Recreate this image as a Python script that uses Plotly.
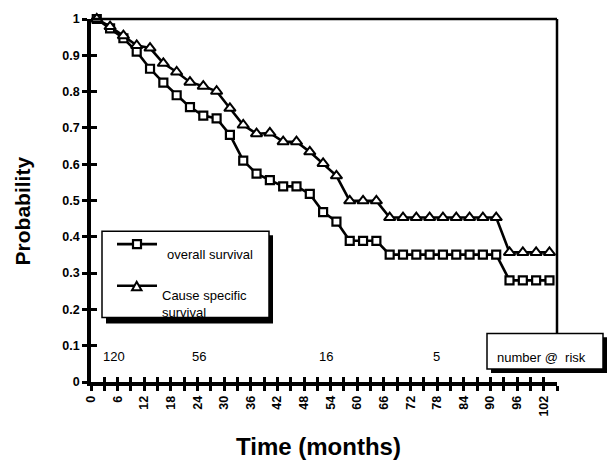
import plotly.graph_objects as go

# ---- data ----
times = [1.3, 4.3, 7.3, 10.3, 13.3, 16.3, 19.3, 22.3, 25.3, 28.3, 31.3, 34.3,
         37.3, 40.3, 43.3, 46.3, 49.3, 52.3, 55.3, 58.3, 61.3, 64.3, 67.3, 70.3,
         73.3, 76.3, 79.3, 82.3, 85.3, 88.3, 91.3, 94.3, 97.3, 100.3, 103.3]
overall_survival = [1.0, 0.974, 0.947, 0.910, 0.863, 0.825, 0.790, 0.757, 0.734,
                    0.726, 0.681, 0.610, 0.574, 0.556, 0.539, 0.539, 0.518, 0.468,
                    0.442, 0.389, 0.389, 0.389, 0.351, 0.351, 0.351, 0.351, 0.351,
                    0.351, 0.351, 0.351, 0.351, 0.280, 0.280, 0.280, 0.280]
cause_specific = [1.0, 0.979, 0.954, 0.927, 0.920, 0.878, 0.854, 0.826, 0.815,
                  0.801, 0.754, 0.708, 0.684, 0.686, 0.662, 0.662, 0.634, 0.602,
                  0.568, 0.499, 0.499, 0.499, 0.453, 0.453, 0.453, 0.453, 0.453,
                  0.453, 0.453, 0.453, 0.453, 0.357, 0.357, 0.357, 0.357]

x_tick_vals = [0, 3, 6, 9, 12, 15, 18, 21, 24, 27, 30, 33, 36, 39, 42, 45, 48, 51,
               54, 57, 60, 63, 66, 69, 72, 75, 78, 81, 84, 87, 90, 93, 96, 99, 102, 105]
x_tick_text = ["0", "", "6", "", "12", "", "18", "", "24", "", "30", "", "36", "",
               "42", "", "48", "", "54", "", "60", "", "66", "", "72", "", "78", "",
               "84", "", "90", "", "96", "", "102", ""]
y_tick_vals = [0, 0.1, 0.2, 0.3, 0.4, 0.5, 0.6, 0.7, 0.8, 0.9, 1.0]
y_tick_text = ["0", "0.1", "0.2", "0.3", "0.4", "0.5", "0.6", "0.7", "0.8", "0.9", "1"]

risk_counts = ["120", "56", "16", "5"]
risk_times = [5.1, 24.4, 53.0, 77.8]
risk_level = 0.069

series_names = ["overall survival", "Cause specific<br>survival"]

# ---- layout geometry (pixels) ----
W, H = 609, 464
L, R, T, B = 91, 52, 16, 82
PW, PH = W - L - R, H - T - B


def px(x):
    return (x - L) / PW


def py(y):
    return (H - B - y) / PH


FONT = "Arial, Liberation Sans, Helvetica, sans-serif"

fig = go.Figure()
fig.add_trace(go.Scatter(
    x=times, y=overall_survival, mode="lines+markers", name=series_names[0],
    line=dict(color="black", width=2.6),
    marker=dict(symbol="square", size=8, color="white",
                line=dict(color="black", width=2.2)),
    cliponaxis=False, showlegend=False))
fig.add_trace(go.Scatter(
    x=times, y=cause_specific, mode="lines+markers", name=series_names[1],
    line=dict(color="black", width=2.6),
    marker=dict(symbol="triangle-up", size=10, color="white",
                line=dict(color="black", width=2.0)),
    cliponaxis=False, showlegend=False))
# invisible trace to carry the overlay axes (inner half of crossing ticks)
fig.add_trace(go.Scatter(x=[0], y=[0], xaxis="x2", yaxis="y2", mode="markers",
                         marker=dict(opacity=0), showlegend=False, hoverinfo="skip"))

axis_common = dict(showgrid=False, zeroline=False, linecolor="black",
                   tickcolor="black", fixedrange=True)
fig.update_layout(
    width=W, height=H,
    margin=dict(l=L, r=R, t=T, b=B, pad=0),
    paper_bgcolor="white", plot_bgcolor="white",
    showlegend=False,
    xaxis=dict(range=[0, 105], tickmode="array", tickvals=x_tick_vals,
               ticktext=x_tick_text, ticks="outside", ticklen=5, tickwidth=2.5,
               showline=True, linewidth=3.5, tickangle=-90,
               tickfont=dict(family=FONT, size=12.5, color="black", weight="bold"),
               **axis_common),
    yaxis=dict(range=[0, 1], tickmode="array", tickvals=y_tick_vals,
               ticktext=y_tick_text, ticks="outside", ticklen=5, tickwidth=2.5,
               showline=True, linewidth=3.5,
               tickfont=dict(family=FONT, size=12.5, color="black", weight="bold"),
               **axis_common),
    xaxis2=dict(range=[0, 105], overlaying="x", anchor="y", tickmode="array",
                tickvals=x_tick_vals, ticks="inside", ticklen=5, tickwidth=2.5,
                showticklabels=False, showline=False, **axis_common),
    yaxis2=dict(range=[0, 1], overlaying="y", anchor="x", tickmode="array",
                tickvals=y_tick_vals, ticks="inside", ticklen=6, tickwidth=2.5,
                showticklabels=False, showline=False, **axis_common),
)

shapes = []
# frame: top and right lines
shapes.append(dict(type="line", xref="paper", yref="paper", x0=0, x1=1, y0=1, y1=1,
                   line=dict(color="black", width=2.5), layer="above"))
shapes.append(dict(type="line", xref="paper", yref="paper", x0=1, x1=1, y0=1,
                   y1=py(333), line=dict(color="black", width=2.5), layer="above"))

# legend box with drop shadow
shapes.append(dict(type="rect", xref="paper", yref="paper", x0=px(106), x1=px(273),
                   y0=py(323), y1=py(234), fillcolor="black",
                   line=dict(width=0), layer="above"))
shapes.append(dict(type="rect", xref="paper", yref="paper", x0=px(102), x1=px(269),
                   y0=py(317), y1=py(230), fillcolor="white",
                   line=dict(color="black", width=1.5), layer="above"))
# legend samples
for ly in (243, 285):
    shapes.append(dict(type="line", xref="paper", yref="paper", x0=px(117), x1=px(157),
                       y0=py(ly), y1=py(ly), line=dict(color="black", width=2.6),
                       layer="above"))
shapes.append(dict(type="rect", xref="paper", yref="paper", x0=px(133), x1=px(141),
                   y0=py(247), y1=py(239), fillcolor="white",
                   line=dict(color="black", width=2.2), layer="above"))
tri = "M {} {} L {} {} L {} {} Z".format(px(132), py(289.5), px(141.5), py(289.5),
                                         px(136.7), py(281))
shapes.append(dict(type="path", xref="paper", yref="paper", path=tri, fillcolor="white",
                   line=dict(color="black", width=2.0), layer="above"))

# number-at-risk box with drop shadow
shapes.append(dict(type="rect", xref="paper", yref="paper", x0=px(491), x1=px(607),
                   y0=py(373), y1=py(337), fillcolor="black",
                   line=dict(width=0), layer="above"))
shapes.append(dict(type="rect", xref="paper", yref="paper", x0=px(487), x1=px(603),
                   y0=py(369), y1=py(333), fillcolor="white",
                   line=dict(color="black", width=1.5), layer="above"))
fig.update_layout(shapes=shapes)

ann = []
for t, n in zip(risk_times, risk_counts):
    ann.append(dict(x=t, y=risk_level, xref="x", yref="y", text=n, showarrow=False,
                    font=dict(family=FONT, size=13, color="black"),
                    xanchor="center", yanchor="middle"))
ann.append(dict(x=px(495), y=py(357), xref="paper", yref="paper", text="number @  risk",
                showarrow=False, font=dict(family=FONT, size=13, color="black"),
                xanchor="left", yanchor="middle"))
ann.append(dict(x=px(165), y=py(253), xref="paper", yref="paper", text=series_names[0],
                showarrow=False, font=dict(family=FONT, size=13, color="black"),
                xanchor="left", yanchor="middle"))
ann.append(dict(x=px(160), y=py(303), xref="paper", yref="paper", text=series_names[1],
                showarrow=False, font=dict(family=FONT, size=13, color="black"),
                xanchor="left", yanchor="middle", align="left"))
ann.append(dict(x=px(22), y=py(210), xref="paper", yref="paper", text="<b>Probability</b>",
                showarrow=False, textangle=-90,
                font=dict(family=FONT, size=21, color="black"),
                xanchor="center", yanchor="middle"))
ann.append(dict(x=px(318), y=py(447), xref="paper", yref="paper",
                text="<b>Time (months)</b>", showarrow=False,
                font=dict(family=FONT, size=24, color="black"),
                xanchor="center", yanchor="middle"))
fig.update_layout(annotations=ann)

fig.write_html("out.html")
